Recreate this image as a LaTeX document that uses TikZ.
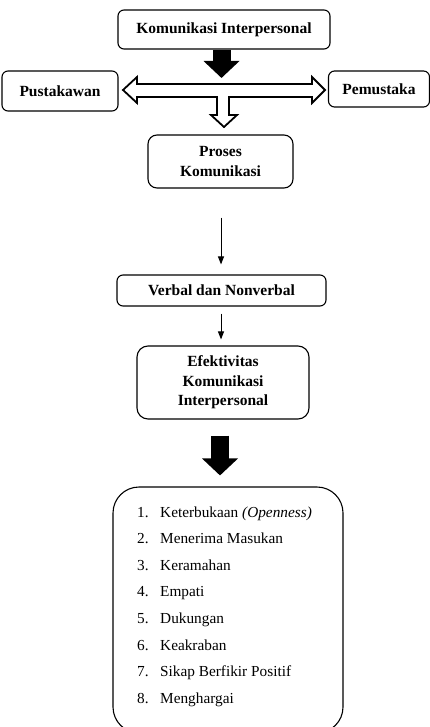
\documentclass[tikz,border=0pt]{standalone}
\usepackage{fontspec}
\setmainfont{Liberation Serif}
\usetikzlibrary{arrows.meta}
\begin{document}
\begin{tikzpicture}[x=1pt,y=-1pt,
  box/.style={draw, line width=1.1pt, rounded corners=6pt, align=center, inner sep=0pt,
    font=\fontsize{15.5}{19.5}\selectfont\bfseries},
  thinarrow/.style={line width=1pt, -{Triangle[width=6pt,length=8pt]}},
  blockarrow/.style={line width=18pt, -{Triangle[width=35pt,length=17pt]}},
  item/.style={anchor=base west, inner sep=0pt, font=\fontsize{15.3}{18}\selectfont}
]
\useasboundingbox (0,0) rectangle (429,727);

\node[box, minimum width=212pt, minimum height=39pt] (kom) at (224,29.5) {Komunikasi Interpersonal};
\node[box, minimum width=116pt, minimum height=40pt] (pus) at (60,91) {Pustakawan};
\node[box, minimum width=101pt, minimum height=36pt] (pem) at (379,89) {Pemustaka};
\node[box, minimum width=145pt, minimum height=53pt, rounded corners=9pt] (pro) at (220.5,161.5) {Proses\\Komunikasi};
\node[box, minimum width=209pt, minimum height=31pt] (ver) at (221.5,290.5) {Verbal dan Nonverbal};
\node[box, minimum width=172pt, minimum height=73pt, rounded corners=11pt] (efe) at (223,382.5) {Efektivitas\\Komunikasi\\Interpersonal};
\node[draw, line width=1.1pt, rounded corners=26pt, minimum width=230pt, minimum height=246pt, inner sep=0pt] (lst) at (228,610) {};

% top black arrow
\coordinate (t1) at (221.5,78);
\draw[blockarrow] (kom.south -| t1) -- (t1);

% outline double arrow with branch
\draw[line width=1.8pt, fill=white, line join=miter]
  (123,90) -- (137,77) -- (137,84) -- (312,84) -- (312,77) -- (325,90) -- (312,103) -- (312,97)
  -- (229,97) -- (229,115) -- (237,115) -- (224,127) -- (211,115) -- (217,115) -- (217,97)
  -- (137,97) -- (137,103) -- cycle;

% thin arrows
\draw[thinarrow, shorten <=29pt, shorten >=10pt] (pro.south -| 221,0) -- (ver.north -| 221,0);
\draw[thinarrow, shorten <=7pt, shorten >=6pt] (ver.south -| 221,0) -- (efe.north -| 221,0);

% bottom black arrow
\draw[blockarrow, shorten <=16pt, shorten >=11pt] (efe.south -| 220,0) -- (lst.north -| 220,0);

% list items
\foreach \n/\t [count=\i from 0] in {1/{Keterbukaan \textit{(Openness)}},2/Menerima Masukan,3/Keramahan,4/Empati,5/Dukungan,6/Keakraban,7/Sikap Berfikir Positif,8/Menghargai}{
  \node[item] (n\n) at (137,517+26.6*\i) {\n.};
  \node[item] (i\n) at (160,517+26.6*\i) {\t};
}
\end{tikzpicture}
\end{document}
